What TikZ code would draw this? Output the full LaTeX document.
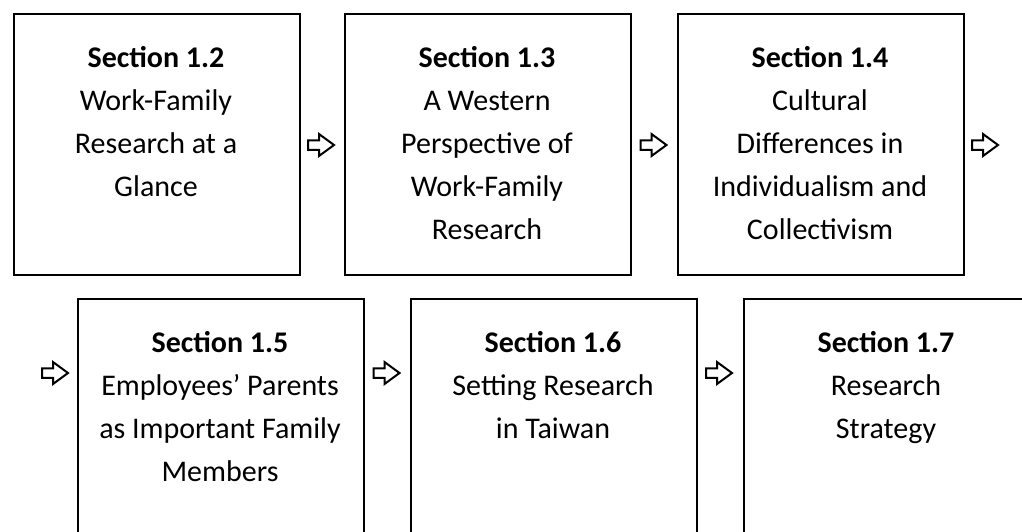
\documentclass[tikz,border=0pt]{standalone}
\usepackage{fontspec}
\setmainfont{Carlito}
\begin{document}
\begin{tikzpicture}[x=1pt,y=-1pt,
  box/.style={draw,line width=2pt,minimum width=286pt,minimum height=261pt,anchor=north west,inner sep=0pt},
  txt/.style={anchor=north,align=center,inner sep=0pt,font=\fontsize{30}{43}\selectfont},
  barrow/.pic={\draw[line width=2pt,line join=miter,fill=white] (0,-4.75) -- (11,-4.75) -- (11,-11) -- (26,0) -- (11,11) -- (11,4.75) -- (0,4.75) -- cycle;}]
\useasboundingbox (0,0) rectangle (1022,531);
\clip (0,0) rectangle (1022,531);
% row 1
\node[box] (b12) at (13,13) {};
\node[box] (b13) at (344,13) {};
\node[box] (b14) at (677,13) {};
\node[txt] (t12) at (156,46) {\textbf{Section 1.2}\\Work-Family\\Research at a\\Glance};
\node[txt] (t13) at (487,46) {\textbf{Section 1.3}\\A Western\\Perspective of\\Work-Family\\Research};
\node[txt] (t14) at (820,46) {\textbf{Section 1.4}\\Cultural\\Differences in\\Individualism and\\Collectivism};
% row 2
\node[box] (b15) at (77,298) {};
\node[box] (b16) at (410,298) {};
\node[box] (b17) at (743,298) {};
\node[txt] (t15) at (220,331) {\textbf{Section 1.5}\\Employees’ Parents\\as Important Family\\Members};
\node[txt] (t16) at (553,331) {\textbf{Section 1.6}\\Setting Research\\in Taiwan};
\node[txt] (t17) at (886,331) {\textbf{Section 1.7}\\Research\\Strategy};
% arrows
\pic at (308,145) {barrow};
\pic at (640.5,145) {barrow};
\pic at (972,145) {barrow};
\pic at (42,373) {barrow};
\pic at (373.5,373) {barrow};
\pic at (706,373) {barrow};
\end{tikzpicture}
\end{document}
